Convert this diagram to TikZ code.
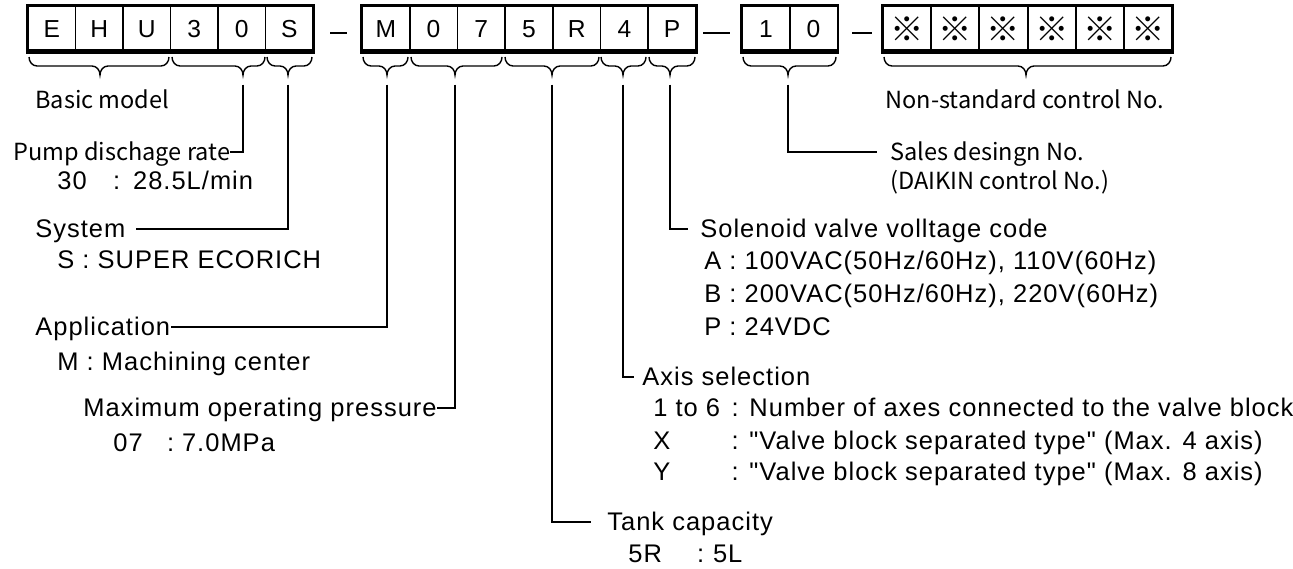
\documentclass[tikz,border=0pt]{standalone}
\usepackage{fontspec}
\setmainfont[LetterSpace=4,Ligatures=TeXOff]{Liberation Sans}
\newfontfamily\jpfont{Noto Sans CJK JP}
\usetikzlibrary{positioning}

% brace under a group of cells: left, tip, right, name of tip
\newcommand{\codebrace}[4]{%
  \draw[brace] (#1,57) to[out=-90,in=180] (#1+8,66) -- (#2-8,66)
    to[out=0,in=90] (#2,75) to[out=90,in=180] (#2+8,66) -- (#3-8,66)
    to[out=0,in=-90] (#3,57);
  \coordinate (#4) at (#2,75);}

\begin{document}
\begin{tikzpicture}[
    x=0.02cm, y=-0.02cm,
    cell/.style={draw, line width=0.9pt, minimum width=0.955cm, minimum height=0.92cm, inner sep=0pt, font=\fontsize{14}{15}\selectfont},
    mark cell/.style={cell, font=\jpfont\fontsize{19}{19}\selectfont},
    frame/.style={line width=1.3pt},
    base/.style={line width=2.4pt},
    brace/.style={line width=0.8pt},
    leader/.style={line width=0.8pt, shorten <=5.5pt},
    txt/.style={anchor=west, inner sep=0pt, text height=13pt, text depth=3pt, font=\fontsize{14.5}{16}\selectfont},
    jtxt/.style={txt, font=\jpfont\fontsize{13.4}{16}\selectfont}
]
\useasboundingbox (0,0) rectangle (1293,568);

% Basic model, discharge rate, system
\node[cell] (cE) at (51.75,29) {E};
\node[cell] (cH) at (99.25,29) {H};
\node[cell] (cU) at (146.75,29) {U};
\node[cell] (c3) at (194.25,29) {3};
\node[cell] (c0) at (241.75,29) {0};
\node[cell] (cS) at (289.25,29) {S};
\draw[frame] (cE.north west) rectangle (cS.south east);
\draw[base] ([yshift=1pt]cE.south west) -- ([yshift=1pt]cS.south east);

% Application, pressure, tank, axis, voltage
\node[cell] (cM) at (385.85,29) {M};
\node[cell] (c07a) at (433.55,29) {0};
\node[cell] (c07b) at (481.25,29) {7};
\node[cell] (c5) at (528.95,29) {5};
\node[cell] (cR) at (576.65,29) {R};
\node[cell] (c4) at (624.35,29) {4};
\node[cell] (cP) at (672.05,29) {P};
\draw[frame] (cM.north west) rectangle (cP.south east);
\draw[base] ([yshift=1pt]cM.south west) -- ([yshift=1pt]cP.south east);

% Sales design No.
\node[cell] (c1) at (765.85,29) {1};
\node[cell] (c10) at (813.55,29) {0};
\draw[frame] (c1.north west) rectangle (c10.south east);
\draw[base] ([yshift=1pt]c1.south west) -- ([yshift=1pt]c10.south east);

% Non-standard control No.
\node[mark cell] (x1) at (907.1,29) {※};
\node[mark cell] (x2) at (955.3,29) {※};
\node[mark cell] (x3) at (1003.5,29) {※};
\node[mark cell] (x4) at (1051.7,29) {※};
\node[mark cell] (x5) at (1099.9,29) {※};
\node[mark cell] (x6) at (1148.1,29) {※};
\draw[frame] (x1.north west) rectangle (x6.south east);
\draw[base] ([yshift=1pt]x1.south west) -- ([yshift=1pt]x6.south east);

% Dashes between groups
\draw[line width=0.8pt] (330,33) -- (347,33);
\draw[line width=0.8pt] (703,33) -- (730,33);
\draw[line width=0.8pt] (852,33) -- (872,33);

% Braces
\codebrace{29}{100}{169}{tBasic}
\codebrace{172}{243}{265}{t30}
\codebrace{267}{288}{312}{tS}
\codebrace{363}{387}{408}{tM}
\codebrace{411}{455}{502}{t07}
\codebrace{505}{552}{599}{t5R}
\codebrace{601}{623}{646}{t4}
\codebrace{649}{670}{695}{tP}
\codebrace{743}{788}{836}{t10}
\codebrace{884}{1026}{1171}{tX}

% Left labels
\node[jtxt] (basic) at (35,100) {Basic model};
\node[jtxt] (pump) at (13,152) {Pump dischage rate};
\node[txt] (pumpv) at (57,181) {\makebox[31.8pt][l]{30}\makebox[11.3pt][l]{:}28.5L/min};
\node[txt] (system) at (35,229) {System};
\node[txt] (systemv) at (57,260) {S : SUPER ECORICH};
\node[txt] (appl) at (35,327) {Application};
\node[txt] (applv) at (57,362) {M : Machining center};
\node[txt] (press) at (83,408) {Maximum operating pressure};
\node[txt] (pressv) at (113,443) {\makebox[30.6pt][l]{07}\makebox[8.5pt][l]{:}7.0MPa};

% Right labels
\node[jtxt] (nonstd) at (885,100) {Non-standard control No.};
\node[jtxt] (sales) at (890,152) {Sales desingn No.};
\node[jtxt] (salesv) at (890,181) {(DAIKIN control No.)};
\node[txt] (sol) at (700,229) {Solenoid valve volltage code};
\node[txt] (solA) at (704,261) {A : 100VAC(50Hz/60Hz), 110V(60Hz)};
\node[txt] (solB) at (704,294) {B : 200VAC(50Hz/60Hz), 220V(60Hz)};
\node[txt] (solP) at (704,327) {P : 24VDC};
\node[txt] (axis) at (642,377) {Axis selection};
\node[txt] (axis1) at (653,408) {\makebox[44.5pt][l]{1 to 6}: Number of axes connected to the valve block};
\node[txt] (axis2) at (653,441) {\makebox[44.5pt][l]{X}: "Valve block separated type" (Max. 4 axis)};
\node[txt] (axis3) at (653,472) {\makebox[44.5pt][l]{Y}: "Valve block separated type" (Max. 8 axis)};
\node[txt] (tank) at (607,522) {Tank capacity};
\node[txt] (tankv) at (628,554) {\makebox[39.1pt][l]{5R}\makebox[9.1pt][l]{:}5L};

% Leaders
\draw[leader] (t30) |- (pump.east);
\draw[leader, shorten >=6pt] (tS) |- (system.east);
\draw[leader] (tM) |- (appl.east);
\draw[leader] (t07) |- (press.east);
\draw[leader, shorten >=9pt] (t5R) |- (tank.west);
\draw[leader, shorten >=4.5pt] (t4) |- (axis.west);
\draw[leader, shorten >=6.8pt] (tP) |- (sol.west);
\draw[leader, shorten >=7.4pt] (t10) |- (sales.west);

\end{tikzpicture}
\end{document}
